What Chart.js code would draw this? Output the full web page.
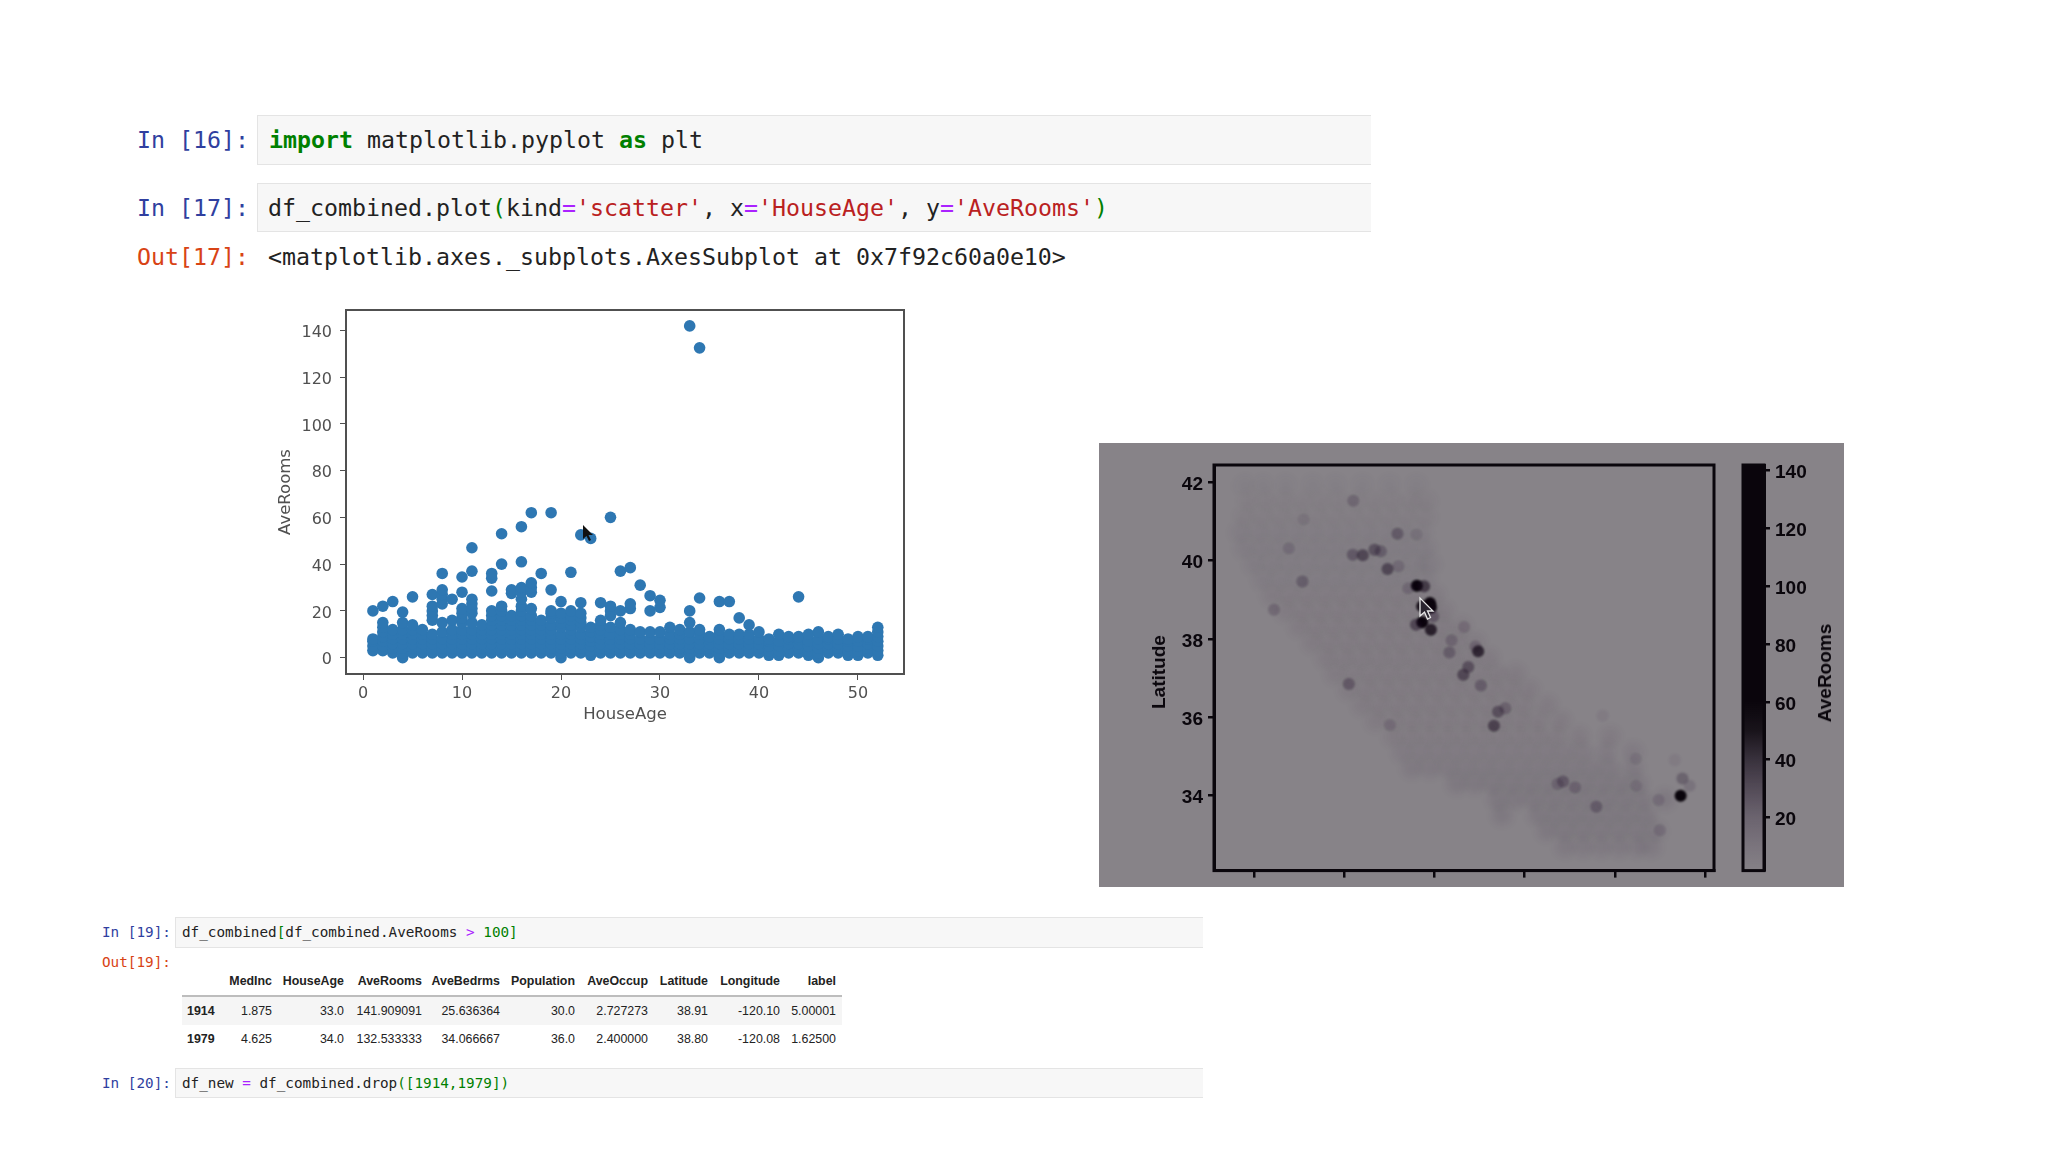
<!DOCTYPE html>
<html>
<head>
<meta charset="utf-8">
<title>df_combined scatter</title>
<script src="https://cdn.jsdelivr.net/npm/chart.js@4/dist/chart.umd.min.js"></script>
<style>
  html, body { margin: 0; padding: 0; background: #fff; }
  body { position: relative; width: 2048px; height: 1152px; overflow: hidden; filter: blur(0.75px); }
  .abs { position: absolute; }
  .cell { position: absolute; background: #f7f7f7; border: 1px solid #e4e4e4; border-right: none; box-sizing: border-box; }
  .code { position: absolute; font-family: "DejaVu Sans Mono", monospace; white-space: pre; color: #222; transform: translateY(-50%); }
  .big { font-size: 23.25px; }
  .small { font-size: 14.3px; }
  .pin { color: #303F9F; }
  .pout { color: #D84315; }
  .k { color: #008000; font-weight: bold; }
  .s { color: #BA2121; }
  .o { color: #AA22FF; }
  .g { color: #008000; }
  #panel { position: absolute; left: 1099px; top: 443px; width: 745px; height: 444px; background: #878388; }
  canvas { position: absolute; }
  #scatterChart { left: 260px; top: 290px; }
  #mapChart { left: 1099px; top: 443px; }
  #barChart { left: 1736px; top: 443px; }
  #barTitle { position: absolute; left: 1825px; top: 673px; transform: translate(-50%, -50%) rotate(-90deg);
    font: bold 19px "Liberation Sans", sans-serif; color: #0a060c; white-space: nowrap; }
  #mapTitle { position: absolute; left: 1159px; top: 672px; transform: translate(-50%, -50%) rotate(-90deg);
    font: bold 19px "Liberation Sans", sans-serif; color: #0a060c; white-space: nowrap; }
  table { position: absolute; left: 182px; top: 967px; width: 660px; border-collapse: collapse; table-layout: fixed;
    font: 12.4px "Liberation Sans", sans-serif; color: #222; }
  th, td { text-align: right; padding: 0 6px 0 0; height: 28px; }
  thead th { border-bottom: 2px solid #bdbdbd; }
  tbody tr:nth-child(odd) { background: #f5f5f5; }
  tbody th { text-align: left; padding-left: 5px; }
</style>
</head>
<body>

<div class="cell" style="left:257px;top:115px;width:1114px;height:50px"></div>
<div class="cell" style="left:257px;top:183px;width:1114px;height:49px"></div>
<div class="code big pin" style="left:137px;top:139px">In [16]:</div>
<div class="code big" style="left:269px;top:139px"><span class="k">import</span> matplotlib.pyplot <span class="k">as</span> plt</div>
<div class="code big pin" style="left:137px;top:207px">In [17]:</div>
<div class="code big" style="left:268px;top:207px">df_combined.plot<span class="g">(</span>kind<span class="o">=</span><span class="s">'scatter'</span>, x<span class="o">=</span><span class="s">'HouseAge'</span>, y<span class="o">=</span><span class="s">'AveRooms'</span><span class="g">)</span></div>
<div class="code big pout" style="left:137px;top:256px">Out[17]:</div>
<div class="code big" style="left:268px;top:256px">&lt;matplotlib.axes._subplots.AxesSubplot at 0x7f92c60a0e10&gt;</div>

<canvas id="scatterChart" width="660" height="446"></canvas>
<svg class="abs" style="left:578px;top:522px" width="20" height="24" viewBox="0 0 20 24">
  <path d="M5 3 L5 17 L8.5 14 L11 19 L13 18 L10.5 13 L15 13 Z" fill="#111"/>
</svg>

<div id="panel"></div>
<canvas id="mapChart" width="631" height="444"></canvas>
<canvas id="barChart" width="84" height="444"></canvas>
<div id="mapTitle">Latitude</div>
<div id="barTitle">AveRooms</div>
<svg class="abs" style="left:1416px;top:594px" width="24" height="30" viewBox="0 0 24 30">
  <path d="M4 4 L4 22 L8.5 18 L11.5 25 L14.5 23.5 L11.5 17 L17 17 Z" fill="#2a2530" stroke="#e8e8e8" stroke-width="1.3"/>
</svg>

<div class="cell" style="left:175px;top:917px;width:1028px;height:31px"></div>
<div class="code small pin" style="left:102px;top:932px">In [19]:</div>
<div class="code small" style="left:182px;top:932px">df_combined<span class="g">[</span>df_combined.AveRooms <span class="o">&gt;</span> <span class="g">100]</span></div>
<div class="code small pout" style="left:102px;top:962px">Out[19]:</div>
<table id="frameTable">
  <colgroup>
    <col style="width:42px"><col style="width:54px"><col style="width:72px"><col style="width:78px"><col style="width:78px">
    <col style="width:75px"><col style="width:73px"><col style="width:60px"><col style="width:72px"><col style="width:56px">
  </colgroup>
  <thead></thead>
  <tbody></tbody>
</table>
<div class="cell" style="left:175px;top:1068px;width:1028px;height:30px"></div>
<div class="code small pin" style="left:102px;top:1083px">In [20]:</div>
<div class="code small" style="left:182px;top:1083px">df_new <span class="o">=</span> df_combined.drop<span class="g">([1914,1979])</span></div>

<script>
// ===============================
// Scatter: AveRooms per HouseAge
// ===============================
const houseAges = [1,2,3,4,5,6,7,8,9,10,11,12,13,14,15,16,17,18,19,20,21,22,23,24,25,26,
  27,28,29,30,31,32,33,34,35,36,37,38,39,40,41,42,43,44,45,46,47,48,49,50,51,52];
const aveRooms = [
  [3,5,7,8,20],
  [3,5,7,9,11,13,15,22],
  [2,4,6,8,10,12,24],
  [0,2,4,6,8,10,12,15,19.5],
  [2,4,6,8,10,12,14,26],
  [2,4,6,8,10,12],
  [2,4,6,8,10,16,18,20,22,27],
  [2,4,6,8,11,15,23,25,27,29,36],
  [2,4,6,8,10,12,16,25],
  [2,4,6,8,10,12,15,17,19,21,28,34.5],
  [2,4,6,8,10,12,15,19,21,23,25,37,47],
  [2,4,6,8,10,12,14],
  [2,4,6,8,10,12,14,16,18,20,28.5,34,36],
  [2,4,6,8,10,12,14,16,18,20,22,40,53],
  [2,4,6,8,10,12,14,16,18,27.5,29],
  [2,4,6,8,10,12,14,16,18,20,22,25,28,30,41,56],
  [2,4,6,8,10,12,14,16,18,21,28,30,32,62],
  [2,4,6,8,10,12,14,16,36],
  [2,4,6,8,10,12,14,17,19,20,29,62],
  [0,2,4,6,8,10,13,15,17,19,24],
  [2,4,6,8,10,12,14,16,18,20,36.5],
  [2,4,6,8,10,13,15,17,19,23.5,52.5],
  [1,3,5,7,9,11,13,51],
  [2,4,6,8,10,12,14,16,23.5],
  [2,4,6,8,10,13,18,20,22,60],
  [2,4,6,8,10,12,15,20,37],
  [2,4,6,8,10,12,21,23,38.5],
  [2,4,6,8,11,31],
  [2,4,6,8,11,20,26.5],
  [2,4,6,8,11,21.5,24.5],
  [2,4,6,8,10,13],
  [2,4,6,8,10,12],
  [0,2,4,6,8,11,15,20,141.9],
  [2,4,6,8,10,12,25.5,132.5],
  [2,4,6,8,9],
  [0,2,4,6,8,10,12,24],
  [2,4,6,8,10,24],
  [2,4,6,8,10,17],
  [2,4,6,8,10,14],
  [2,4,6,8,11],
  [1,3,5,7,8],
  [1,3,5,7,10],
  [2,4,6,8,9],
  [2,4,6,8,9,26],
  [1,3,5,7,10],
  [0,2,4,6,8,11],
  [2,4,6,8,9],
  [2,4,6,8,10],
  [1,3,5,7,8],
  [1,3,5,7,9],
  [2,4,6,8,9],
  [1,3,5,7,9,11,13]
];
const scatterXTicks = [0, 10, 20, 30, 40, 50];
const scatterYTicks = [0, 20, 40, 60, 80, 100, 120, 140];

// ===============================
// Map: latitude rows over California, then the marked blocks
// ===============================
const stateLats = [41.9, 41.5, 41.1, 40.7, 40.3, 39.9, 39.5, 39.1, 38.7, 38.3, 37.9, 37.5, 37.1, 36.7, 36.3, 35.9, 35.5, 35.1, 34.7, 34.3, 33.9, 33.5, 33.1, 32.7];
const stateLons = [
  [-124.2,-123.8,-123.3,-122.7,-122.2,-121.6,-121.0,-120.4],
  [-124.1,-123.7,-123.3,-122.9,-122.5,-122.1,-121.7,-121.3,-120.9,-120.5,-120.2],
  [-124.2,-123.8,-123.4,-123.0,-122.6,-122.2,-121.8,-121.4,-121.0,-120.6,-120.2],
  [-124.3,-123.9,-123.5,-123.1,-122.7,-122.3,-121.9,-121.5,-121.1,-120.7,-120.3],
  [-124.2,-123.8,-123.4,-123.0,-122.6,-122.2,-121.8,-121.4,-121.0,-120.6,-120.2],
  [-124.0,-123.6,-123.2,-122.8,-122.4,-122.0,-121.6,-121.2,-120.8,-120.4,-120.1],
  [-123.8,-123.4,-123.0,-122.6,-122.2,-121.8,-121.4,-121.0,-120.6,-120.2],
  [-123.6,-123.2,-122.8,-122.4,-122.0,-121.6,-121.2,-120.8,-120.4,-120.0],
  [-123.3,-122.9,-122.5,-122.1,-121.7,-121.3,-120.9,-120.5,-120.1,-119.8],
  [-123.0,-122.6,-122.2,-121.8,-121.4,-121.0,-120.6,-120.2,-119.8,-119.4],
  [-122.7,-122.3,-121.9,-121.5,-121.1,-120.7,-120.3,-119.9,-119.5,-119.1],
  [-122.4,-122.0,-121.6,-121.2,-120.8,-120.4,-120.0,-119.6,-119.2,-118.8],
  [-122.2,-121.8,-121.4,-121.0,-120.6,-120.2,-119.8,-119.4,-119.0,-118.6,-118.2],
  [-121.9,-121.5,-121.1,-120.7,-120.3,-119.9,-119.5,-119.1,-118.7,-118.3,-117.9],
  [-121.6,-121.2,-120.8,-120.4,-120.0,-119.6,-119.2,-118.8,-118.4,-118.0,-117.5],
  [-121.3,-120.9,-120.5,-120.1,-119.7,-119.3,-118.9,-118.5,-118.1,-117.7,-117.2],
  [-120.9,-120.5,-120.1,-119.7,-119.3,-118.9,-118.5,-118.1,-117.7,-117.3,-116.8,-116.1],
  [-120.7,-120.3,-119.9,-119.5,-119.1,-118.7,-118.3,-117.9,-117.5,-117.1,-116.7,-116.2,-115.6],
  [-120.5,-120.1,-119.7,-119.3,-118.9,-118.5,-118.1,-117.7,-117.3,-116.9,-116.5,-116.1,-115.6],
  [-119.5,-119.1,-118.7,-118.3,-117.9,-117.5,-117.1,-116.7,-116.3,-115.9,-115.5],
  [-118.6,-118.2,-117.8,-117.4,-117.0,-116.6,-116.2,-115.8,-115.4,-114.9],
  [-118.5,-117.7,-117.3,-116.9,-116.5,-116.1,-115.7,-115.3],
  [-117.5,-117.1,-116.7,-116.3,-115.9,-115.5,-115.1],
  [-117.1,-116.7,-116.3,-115.9,-115.5,-115.2]
];
const stateRooms = [4,4.5,5,5.5,6,6,6,6.5,6.5,6.5,6.5,6.5,6.5,6.5,6.5,6.5,6.5,7,7.5,8,8,8,8,7.5];

const hotLons = [-120.39,-120.23,-120.10,-120.08,-120.27,-120.27,-120.41,-120.08,-120.03,-120.58,-120.80,-121.04,-120.82,-120.40,-121.80,-121.81,-121.59,-121.33,-121.19,-123.23,-122.93,-123.56,-122.90,-119.34,-119.62,-119.67,-119.09,-119.03,-119.25,-119.36,-118.97,-118.43,-118.59,-118.68,-121.90,-120.99,-117.27,-117.15,-116.88,-116.41,-114.50,-114.34,-114.54,-115.03,-115.53,-115.00,-115.53,-114.67,-116.27];
const hotLats = [39.35,39.34,38.91,38.80,38.83,38.42,38.36,38.23,38.57,39.29,39.85,39.78,40.68,40.66,41.52,40.14,40.13,40.27,40.23,40.31,39.46,38.74,41.04,38.30,37.96,37.65,37.80,37.68,37.28,37.08,36.81,36.23,36.14,35.78,36.85,35.80,34.30,34.36,34.21,33.72,34.44,34.25,34.00,33.89,34.25,33.12,34.94,34.91,36.04];
const hotRooms = [62,35,141.9,132.5,50,62,30,45,22,14,14,30,22,10,16,22,30,26,20,12,20,16,9,13,16,20,16,42,26,30,20,18,26,32,22,12,15,22,16,20,20,12,62,12,10,12,8,7,7];

const mapLatTicks = [34, 36, 38, 40, 42];
const mapLonTicks = [-124, -122, -120, -118, -116, -114];
const colorbarTicks = [20, 40, 60, 80, 100, 120, 140];
const colorbarRange = [1.6, 141.9];

// ===============================
// Table under the plots
// ===============================
const tableColumns = ['', 'MedInc', 'HouseAge', 'AveRooms', 'AveBedrms', 'Population', 'AveOccup', 'Latitude', 'Longitude', 'label'];
const row1914 = ['1914', '1.875', '33.0', '141.909091', '25.636364', '30.0', '2.727273', '38.91', '-120.10', '5.00001'];
const row1979 = ['1979', '4.625', '34.0', '132.533333', '34.066667', '36.0', '2.400000', '38.80', '-120.08', '1.62500'];

function llenarTabla() {
  const tabla = document.getElementById('frameTable');
  tabla.tHead.innerHTML = '<tr>' + tableColumns.map(c => `<th>${c}</th>`).join('') + '</tr>';
  tabla.tBodies[0].innerHTML = [row1914, row1979].map(fila =>
    '<tr>' + fila.map((v, i) => i === 0 ? `<th>${v}</th>` : `<td>${v}</td>`).join('') + '</tr>'
  ).join('');
}

// opacity of a block on the map, the colorbar uses the same ramp
function roomsAlpha(v) {
  return Math.min(1, Math.pow(v / 55, 1.3));
}
function roomsColor(v) {
  const t = Math.min(1, v / 50);
  return `rgba(${45 - 35 * t}, ${20 - 15 * t}, ${60 - 48 * t}, ${roomsAlpha(v)})`;
}

// frame around the axes, matplotlib style
function marcoPlugin(color, width) {
  return {
    id: 'marco',
    afterDatasetsDraw(chart) {
      const a = chart.chartArea;
      const ctx = chart.ctx;
      ctx.save();
      ctx.strokeStyle = color;
      ctx.lineWidth = width;
      ctx.strokeRect(a.left, a.top, a.right - a.left, a.bottom - a.top);
      ctx.restore();
    }
  };
}

// the video frame is soft, so the blocks on the map get softened too
const suavizarMapa = {
  id: 'suavizar',
  beforeDatasetDraw(chart, args) {
    chart.ctx.save();
    chart.ctx.filter = args.index === 0 ? 'blur(3.5px)' : 'blur(1.2px)';
  },
  afterDatasetDraw(chart) {
    chart.ctx.restore();
  }
};

function ticksFijos(lista) {
  return function (scale) {
    scale.ticks = lista.map(v => ({ value: v }));
  };
}

function configurarScatter() {
  const puntos = [];
  houseAges.forEach((edad, i) => {
    aveRooms[i].forEach(v => puntos.push({ x: edad, y: v }));
  });
  const gris = '#505050';
  const fuente = { family: '"DejaVu Sans", sans-serif', size: 16 };
  new Chart(document.getElementById('scatterChart'), {
    type: 'scatter',
    data: {
      datasets: [{
        data: puntos,
        backgroundColor: '#2e77b2',
        borderWidth: 0,
        pointRadius: 5.8
      }]
    },
    options: {
      responsive: false,
      animation: false,
      layout: { padding: { top: 20, right: 16, left: 0, bottom: 0 } },
      plugins: { legend: { display: false }, tooltip: { enabled: false } },
      scales: {
        x: {
          min: -1.72, max: 54.65,
          afterBuildTicks: ticksFijos(scatterXTicks),
          afterFit: s => { s.height = 62; },
          grid: { drawOnChartArea: false, color: gris, tickLength: 6 },
          border: { color: gris, width: 2 },
          ticks: { color: gris, font: fuente, padding: 4, maxRotation: 0 },
          title: { display: true, text: 'HouseAge', color: gris, font: { family: fuente.family, size: 16.5 }, padding: { top: 0, bottom: 11 } }
        },
        y: {
          min: -7, max: 148.7,
          afterBuildTicks: ticksFijos(scatterYTicks),
          afterFit: s => { s.width = 86; },
          grid: { drawOnChartArea: false, color: gris, tickLength: 6 },
          border: { color: gris, width: 2 },
          ticks: { color: gris, font: fuente, padding: 8, labelOffset: 2.5 },
          title: { display: true, text: 'AveRooms', color: gris, font: { family: fuente.family, size: 16.5 }, padding: { top: 16, bottom: 0 } }
        }
      }
    },
    plugins: [marcoPlugin(gris, 2)]
  });
}

function configurarMapa() {
  const estado = [];
  const colores = [];
  stateLats.forEach((lat, i) => {
    stateLons[i].forEach(lon => {
      estado.push({ x: lon, y: lat });
      colores.push(roomsColor(stateRooms[i]));
    });
  });
  const negro = '#0a060c';
  const fuente = { family: '"Liberation Sans", sans-serif', size: 19, weight: 'bold' };
  new Chart(document.getElementById('mapChart'), {
    type: 'scatter',
    data: {
      datasets: [{
        data: estado,
        backgroundColor: colores,
        borderWidth: 0,
        pointRadius: 10
      }, {
        data: hotLons.map((lon, i) => ({ x: lon, y: hotLats[i] })),
        backgroundColor: hotRooms.map(roomsColor),
        borderWidth: 0,
        pointRadius: 6
      }]
    },
    options: {
      responsive: false,
      animation: false,
      layout: { padding: { top: 22, right: 16, left: 0, bottom: 0 } },
      plugins: { legend: { display: false }, tooltip: { enabled: false } },
      scales: {
        x: {
          min: -124.89, max: -113.8,
          afterBuildTicks: ticksFijos(mapLonTicks),
          afterFit: s => { s.height = 16; },
          grid: { drawOnChartArea: false, color: negro, tickLength: 7, lineWidth: 2.5 },
          border: { color: negro, width: 3 },
          ticks: { display: false }
        },
        y: {
          min: 32.09, max: 42.43,
          afterBuildTicks: ticksFijos(mapLatTicks),
          afterFit: s => { s.width = 115; },
          grid: { drawOnChartArea: false, color: negro, tickLength: 6, lineWidth: 2.5 },
          border: { color: negro, width: 3 },
          ticks: { color: negro, font: fuente, padding: 5, labelOffset: 2.5 }
        }
      }
    },
    plugins: [suavizarMapa, marcoPlugin(negro, 3)]
  });
}

function configurarColorbar() {
  const negro = '#0a060c';
  const fuente = { family: '"Liberation Sans", sans-serif', size: 19, weight: 'bold' };
  new Chart(document.getElementById('barChart'), {
    type: 'bar',
    data: {
      labels: ['AveRooms'],
      datasets: [{
        data: [colorbarRange],
        barPercentage: 1,
        categoryPercentage: 1,
        backgroundColor(ctx) {
          const { chart } = ctx;
          if (!chart.chartArea) return negro;
          const y = chart.scales.y;
          const grad = chart.ctx.createLinearGradient(0, y.getPixelForValue(colorbarRange[0]), 0, y.getPixelForValue(colorbarRange[1]));
          colorbarTicks.concat(colorbarRange).sort((a, b) => a - b).forEach(v => {
            grad.addColorStop((v - colorbarRange[0]) / (colorbarRange[1] - colorbarRange[0]), roomsColor(v));
          });
          grad.addColorStop((50 - colorbarRange[0]) / (colorbarRange[1] - colorbarRange[0]), roomsColor(50));
          return grad;
        }
      }]
    },
    options: {
      responsive: false,
      animation: false,
      layout: { padding: { top: 22, right: 0, left: 7, bottom: 16 } },
      plugins: { legend: { display: false }, tooltip: { enabled: false } },
      scales: {
        x: { display: false },
        y: {
          position: 'right',
          min: colorbarRange[0], max: colorbarRange[1],
          afterBuildTicks: ticksFijos(colorbarTicks),
          afterFit: s => { s.width = 56; },
          grid: { drawOnChartArea: false, color: negro, tickLength: 6, lineWidth: 2.5 },
          border: { color: negro, width: 3 },
          ticks: { color: negro, font: fuente, padding: 5, labelOffset: 2.5 }
        }
      }
    },
    plugins: [marcoPlugin(negro, 3)]
  });
}

llenarTabla();
configurarScatter();
configurarMapa();
configurarColorbar();
</script>
</body>
</html>
